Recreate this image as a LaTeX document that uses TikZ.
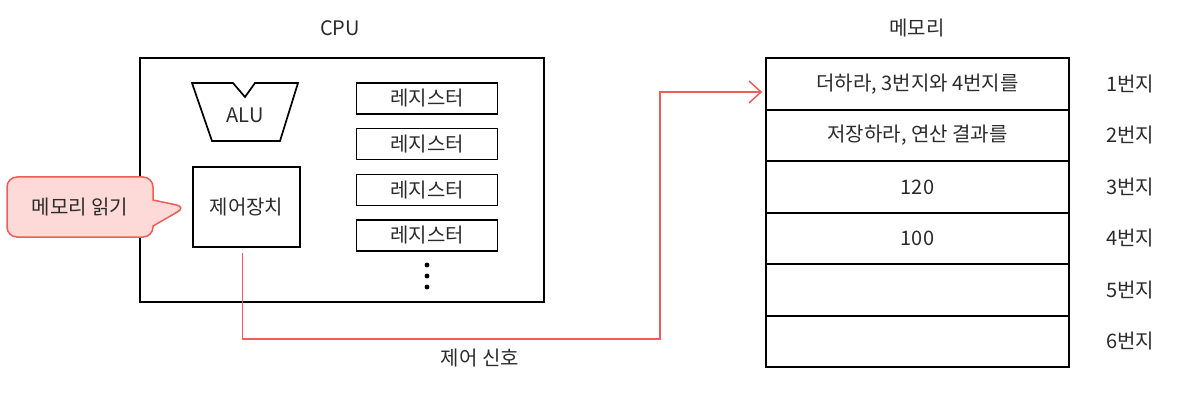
\documentclass[tikz,border=0pt]{standalone}
\usepackage{fontspec}
\setmainfont{Noto Sans CJK KR}
\usetikzlibrary{shapes.callouts, arrows.meta}
\definecolor{inkgray}{HTML}{2B2B2B}
\definecolor{signalred}{HTML}{EE5D57}
\definecolor{calloutpink}{HTML}{FDD9D7}
\tikzstyle{heading} = [text=inkgray]
\tikzstyle{unitbox} = [rectangle, minimum width=107pt, minimum height=80pt, text centered, draw=black, line width=1.7pt]
\tikzstyle{register} = [rectangle, minimum width=141pt, minimum height=31pt, inner sep=0pt, text centered, draw=black, line width=1.7pt]
\tikzstyle{cell} = [rectangle, minimum width=303pt, minimum height=51.5pt, inner sep=0pt, text centered, draw=black, line width=1.7pt]
\tikzstyle{address} = [text=inkgray]
\tikzstyle{signal} = [draw=signalred, line width=1.5pt, -{Straight Barb[length=12pt,width=22pt]}, shorten >= +3pt]

\begin{document}
\begin{tikzpicture}[x=1pt, y=-1pt, inner sep=1pt, font=\fontsize{20}{24}\selectfont, text=inkgray]
			\useasboundingbox (0,0) rectangle (1191,406);

			% CPU side
			\node(cpulabel) at (340, 28) [heading] {CPU};
			\node(cpu) at (342, 180) [rectangle, draw=black, line width=1.7pt, minimum width=404pt, minimum height=244pt] {};
			\draw [line width=1.7pt] (192, 83) -- (233, 83) -- (245, 97) -- (255, 83) -- (298, 83) -- (280, 141) -- (212, 141) -- cycle;
			\node(alu) at (245, 115) {ALU};
			\node(ctrl) at (246.5, 207) [unitbox] {제어장치};
			\node(reg1) at (427, 98.5) [register] {레지스터};
			\node(reg2) at (427, 144) [register] {레지스터};
			\node(reg3) at (427, 190) [register] {레지스터};
			\node(reg4) at (427, 235.5) [register] {레지스터};
			\fill [black] (427, 265) circle (2.4pt) (427, 276) circle (2.4pt) (427, 287) circle (2.4pt);
			\node(readcall) at (80, 207) [rectangle callout, draw=signalred, fill=calloutpink, line width=1.5pt, rounded corners=10pt, minimum width=146pt, minimum height=60pt, callout absolute pointer={([xshift=-6pt]ctrl.west)}, callout pointer width=26pt] {메모리 읽기};

			% memory side
			\node(memlabel) at (917, 28) [heading] {메모리};
			\node(mem1) at (917.5, 84) [cell] {더하라, 3번지와 4번지를};
			\node(mem2) at (917.5, 135.5) [cell] {저장하라, 연산 결과를};
			\node(mem3) at (917.5, 187) [cell] {120};
			\node(mem4) at (917.5, 238.5) [cell] {100};
			\node(mem5) at (917.5, 290) [cell] {};
			\node(mem6) at (917.5, 341.5) [cell] {};
			\node(addr1) at (1130, 84) [address] {1번지};
			\node(addr2) at (1130, 135.5) [address] {2번지};
			\node(addr3) at (1130, 187) [address] {3번지};
			\node(addr4) at (1130, 238.5) [address] {4번지};
			\node(addr5) at (1130, 290) [address] {5번지};
			\node(addr6) at (1130, 341.5) [address] {6번지};

			% control signal
			\coordinate(turn) at (660, 339);
			\draw [signal] ([shift={(-4pt,-5pt)}]ctrl.south) |- (turn) |- ([yshift=-8pt]mem1.west);
			\node(siglabel) at (480, 358) {제어 신호};
		\end{tikzpicture}
\end{document}
